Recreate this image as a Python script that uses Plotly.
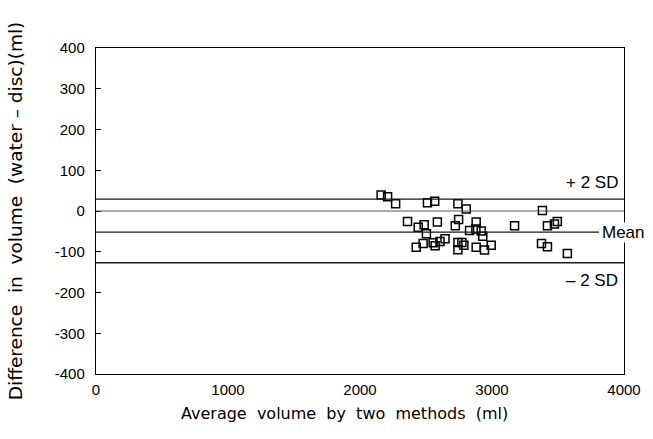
import plotly.graph_objects as go

# Average volume by two methods (ml)
avg_volume = [2160, 2209, 2270, 2511, 2566, 2742, 2805, 2360, 2441, 2486,
              2586, 2503, 2747, 2722, 2880, 2830, 2878, 2918, 2930, 2426,
              2478, 2554, 2569, 2606, 2644, 2742, 2772, 2742, 2787, 2880,
              2943, 2994, 3171, 3382, 3420, 3473, 3495, 3375, 3420, 3571]
# Difference in volume (water - disc) (ml)
difference = [39, 35, 18, 20, 24, 18, 5, -26, -40, -34,
              -27, -56, -21, -36, -27, -48, -44, -49, -62, -89,
              -80, -78, -85, -75, -68, -77, -77, -95, -84, -89,
              -96, -84, -36, 1, -36, -32, -26, -80, -88, -104]

plus_2sd = 29
zero_line = 0
mean_diff = -52
minus_2sd = -127

x_ticks = [0, 1000, 2000, 3000, 4000]
y_ticks = [400, 300, 200, 100, 0, -100, -200, -300, -400]

FONT = "DejaVu Sans"
LABEL_FONT = "Liberation Sans"

fig = go.Figure()
fig.add_trace(go.Scatter(
    x=avg_volume, y=difference, mode="markers",
    marker=dict(symbol="square-open", size=8, color="black",
                line=dict(width=1.5, color="black")),
    showlegend=False, hoverinfo="skip"))

line_style = dict(color="#1a1a1a", width=1.3)
fig.add_shape(type="line", xref="x", yref="y", x0=0, x1=4000,
              y0=plus_2sd, y1=plus_2sd, line=line_style)
fig.add_shape(type="line", xref="x", yref="y", x0=0, x1=4000,
              y0=zero_line, y1=zero_line, line=dict(color="#555", width=1))
fig.add_shape(type="line", xref="x", yref="y", x0=0, x1=3810,
              y0=mean_diff, y1=mean_diff, line=line_style)
fig.add_shape(type="line", xref="x", yref="y", x0=0, x1=4000,
              y0=minus_2sd, y1=minus_2sd, line=line_style)

fig.add_annotation(x=0.993, xref="paper", y=plus_2sd, yref="y",
                   text="+ 2 SD", showarrow=False, xanchor="right",
                   yanchor="bottom", yshift=5,
                   font=dict(family=LABEL_FONT, size=17, color="black"))
fig.add_annotation(x=3825, xref="x", y=mean_diff, yref="y",
                   text="Mean", showarrow=False, xanchor="left",
                   yanchor="middle", bgcolor="white", borderpad=0,
                   font=dict(family=LABEL_FONT, size=17, color="black"))
fig.add_annotation(x=0.993, xref="paper", y=minus_2sd, yref="y",
                   text="\u2013 2 SD", showarrow=False, xanchor="right",
                   yanchor="top", yshift=-6,
                   font=dict(family=LABEL_FONT, size=17, color="black"))

fig.add_annotation(x=-0.153, xref="paper", y=0.5, yref="paper",
                   text="Difference  in  volume  (water \u2013 disc)(ml)",
                   textangle=-90, showarrow=False,
                   xanchor="center", yanchor="middle",
                   font=dict(family=FONT, size=18.5, color="black"))
fig.add_annotation(x=0.47, xref="paper", y=-0.12, yref="paper",
                   text="Average  volume  by  two  methods  (ml)",
                   showarrow=False, yanchor="middle",
                   font=dict(family=FONT, size=16, color="black"))

fig.update_xaxes(range=[0, 4000], tickvals=x_ticks,
                 ticktext=[str(v) for v in x_ticks],
                 showgrid=False, zeroline=False, showline=True,
                 linecolor="black", linewidth=1.4, mirror=True,
                 ticks="", ticklabelstandoff=2,
                 tickfont=dict(family=LABEL_FONT, size=15, color="black"))
fig.update_yaxes(range=[-400, 400], tickvals=y_ticks,
                 ticktext=[str(v) for v in y_ticks],
                 showgrid=False, zeroline=False, showline=True,
                 linecolor="black", linewidth=1.4, mirror=True,
                 ticks="inside", ticklen=5, tickcolor="black", tickwidth=1.2,
                 ticklabelstandoff=7,
                 tickfont=dict(family=LABEL_FONT, size=15, color="black"))

fig.update_layout(
    width=653, height=439,
    margin=dict(l=96, r=26, t=48, b=65),
    paper_bgcolor="white", plot_bgcolor="white",
)

fig.write_html("out.html",
               config={"displayModeBar": False},
               post_script="document.body.style.margin='0';"
                           "document.body.style.overflow='hidden';")
